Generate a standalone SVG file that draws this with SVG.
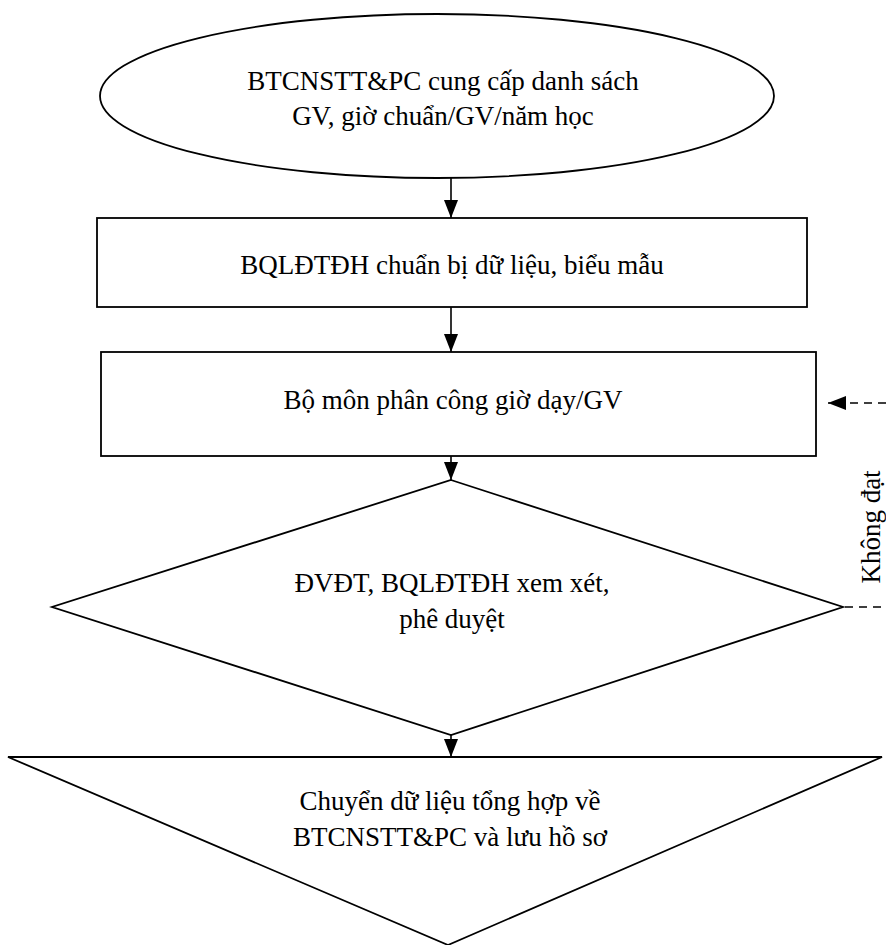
<svg xmlns="http://www.w3.org/2000/svg" width="886" height="945" viewBox="0 0 886 945">
  <style>
    .shape { fill: #ffffff; stroke: #000000; stroke-width: 1.8; }
    .conn { fill: none; stroke: #000000; stroke-width: 1.6; }
    .dash { fill: none; stroke: #000000; stroke-width: 1.6; stroke-dasharray: 8 6; }
    .lbl { font-family: "Liberation Serif", "Times New Roman", serif; font-size: 27px; fill: #000000; text-anchor: middle; }
  </style>
  <defs>
    <marker id="ah" markerWidth="18" markerHeight="14" refX="18" refY="7" viewBox="0 0 18 14" orient="auto" markerUnits="userSpaceOnUse">
      <path d="M0,0 L18,7 L0,14 Z" fill="#000000"/>
    </marker>
  </defs>
  <rect width="886" height="945" fill="#ffffff"/>

  <g id="n1">
    <ellipse class="shape" cx="437" cy="96" rx="337" ry="82"/>
    <text class="lbl" x="443" y="90">BTCNSTT&amp;PC cung cấp danh sách</text>
    <text class="lbl" x="443" y="125">GV, giờ chuẩn/GV/năm học</text>
  </g>

  <g id="n2">
    <rect class="shape" x="97" y="218" width="710" height="89"/>
    <text class="lbl" x="452" y="274">BQLĐTĐH chuẩn bị dữ liệu, biểu mẫu</text>
  </g>

  <g id="n3">
    <rect class="shape" x="101" y="352" width="715" height="104"/>
    <text class="lbl" x="453" y="409">Bộ môn phân công giờ dạy/GV</text>
  </g>

  <g id="n4">
    <polygon class="shape" points="451,480 843,607 451,735 52,607"/>
    <text class="lbl" x="452" y="592">ĐVĐT, BQLĐTĐH xem xét,</text>
    <text class="lbl" x="452" y="628">phê duyệt</text>
  </g>

  <g id="n5">
    <polygon class="shape" points="8,757 882,757 448,945"/>
    <text class="lbl" x="450" y="810">Chuyển dữ liệu tổng hợp về</text>
    <text class="lbl" x="450" y="846">BTCNSTT&amp;PC và lưu hồ sơ</text>
  </g>

  <g id="connectors">
    <line class="conn" x1="451" y1="178" x2="451" y2="218" marker-end="url(#ah)"/>
    <line class="conn" x1="451" y1="307" x2="451" y2="352" marker-end="url(#ah)"/>
    <line class="conn" x1="451" y1="456" x2="451" y2="480" marker-end="url(#ah)"/>
    <line class="conn" x1="451" y1="735" x2="451" y2="757" marker-end="url(#ah)"/>
    <line class="dash" x1="845" y1="607" x2="886" y2="607"/>
    <line class="dash" x1="886" y1="403" x2="828" y2="403" marker-end="url(#ah)"/>
    <text class="lbl" transform="translate(880,527) rotate(-90)" x="0" y="0">Không đạt</text>
  </g>
</svg>
